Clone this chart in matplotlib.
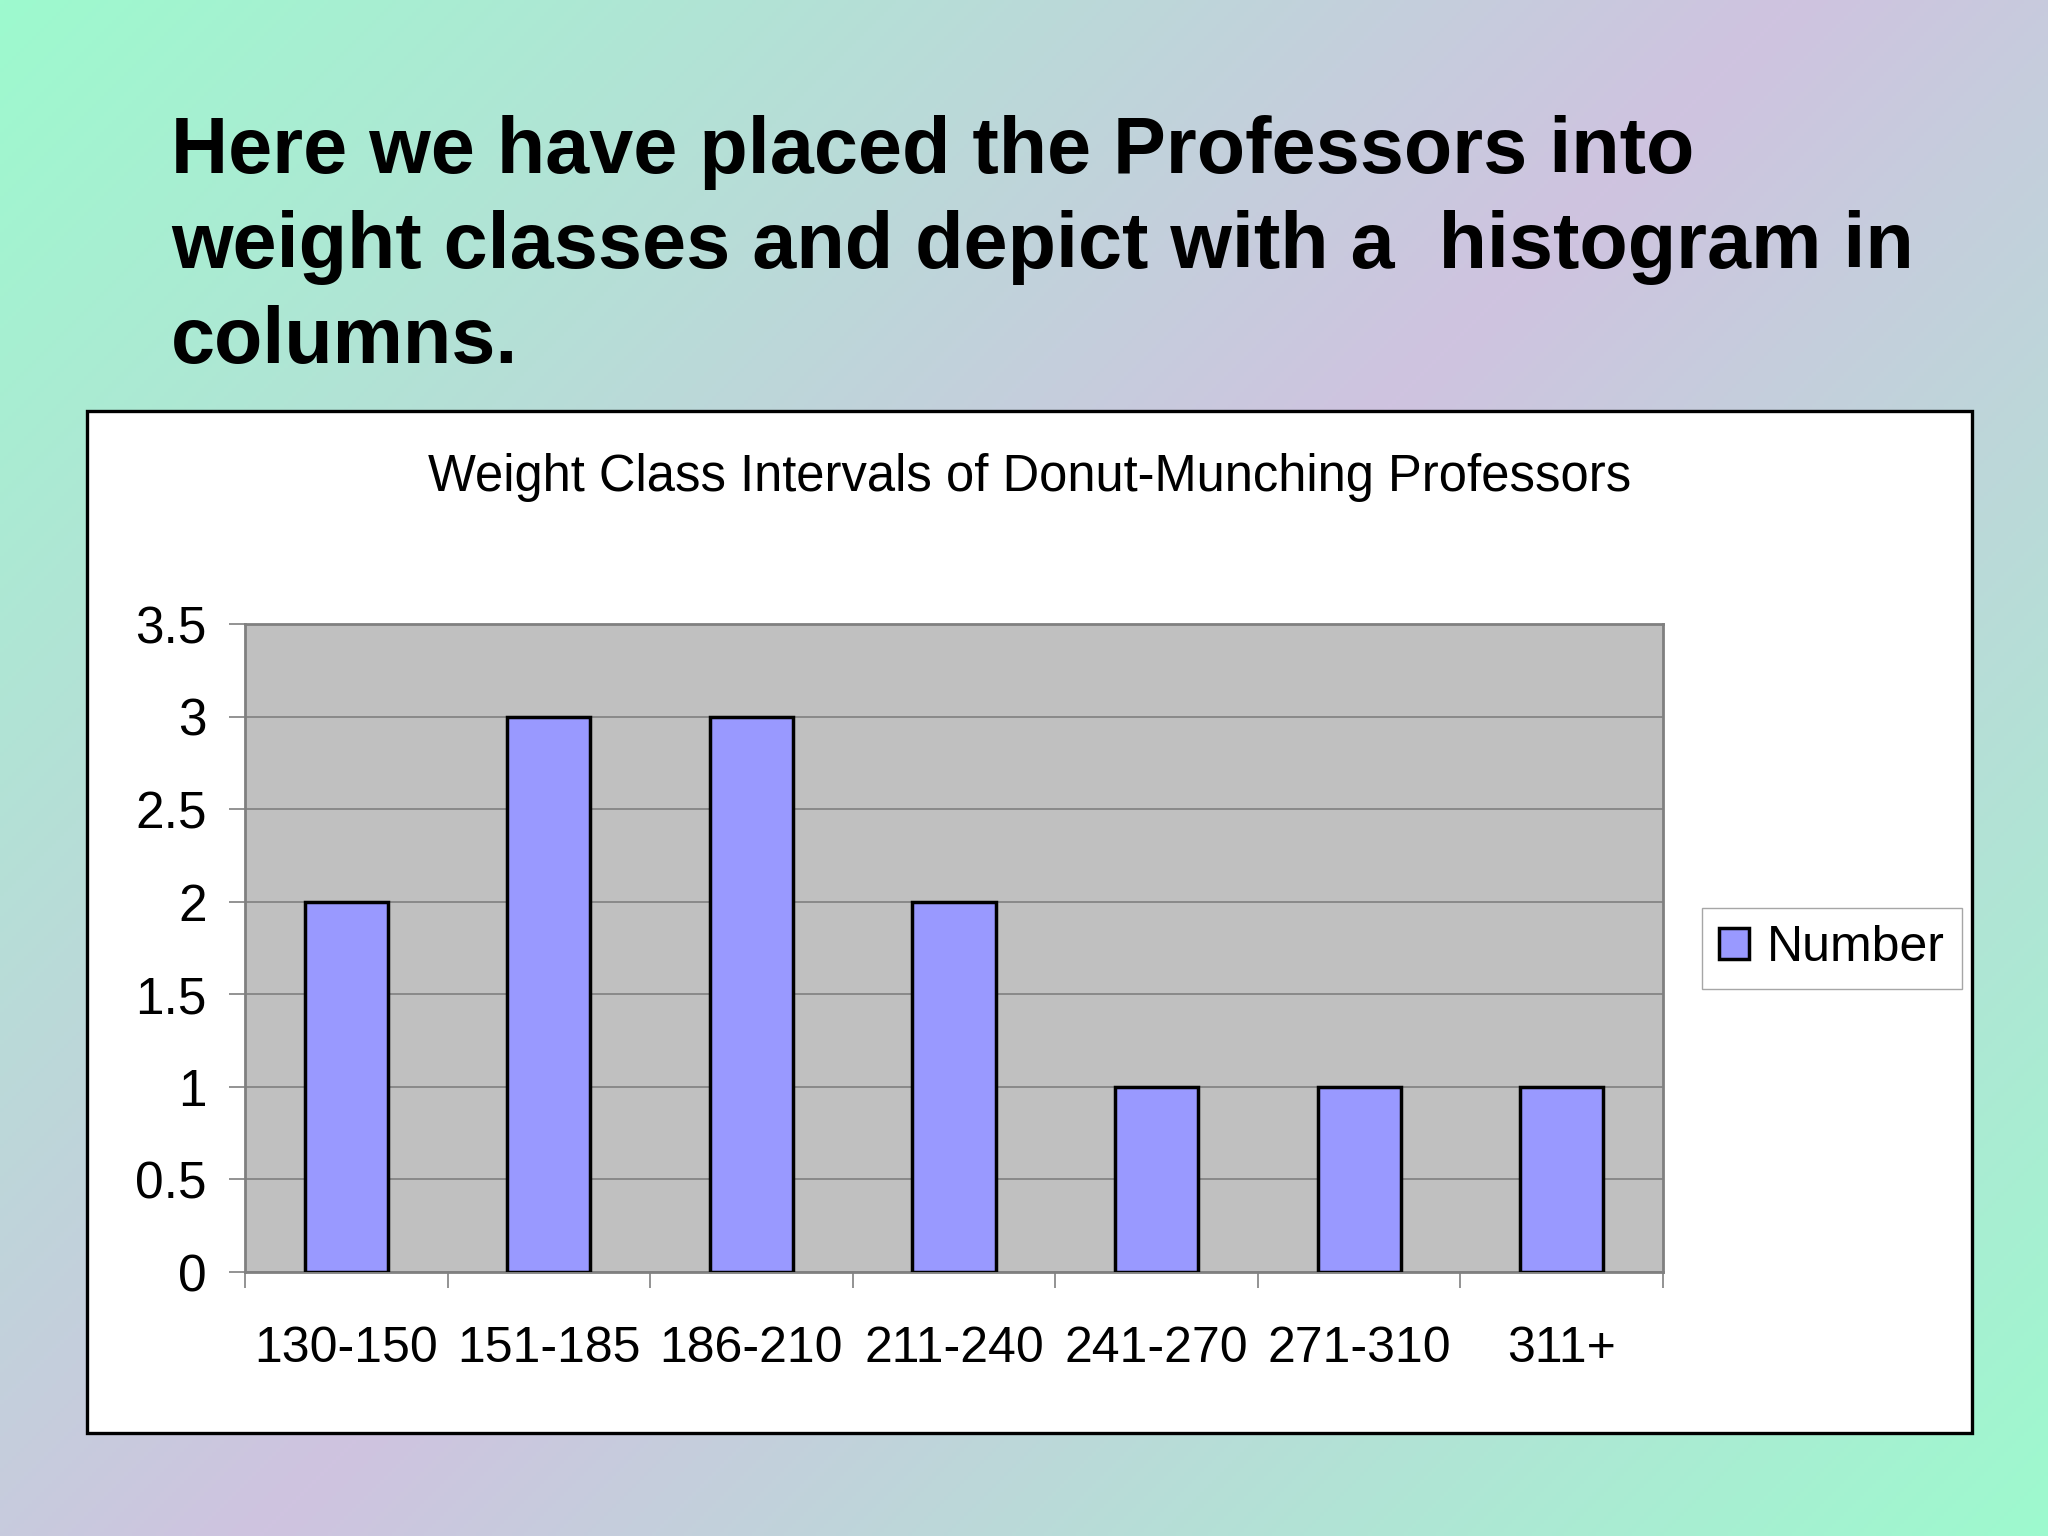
import matplotlib
matplotlib.use("Agg")
import matplotlib.pyplot as plt
import numpy as np
from matplotlib.patches import Rectangle

plt.rcParams['font.family'] = ['Liberation Sans', 'DejaVu Sans']

# данные
heading = ["Here we have placed the Professors into",
           "weight classes and depict with a  histogram in",
           "columns."]
chart_title = "Weight Class Intervals of Donut-Munching Professors"
classes = ["130-150", "151-185", "186-210", "211-240", "241-270", "271-310", "311+"]
number = [2, 3, 3, 2, 1, 1, 1]
y_ticks = [0, 0.5, 1, 1.5, 2, 2.5, 3, 3.5]
series_name = "Number"

W, H = 2048, 1536
fig = plt.figure(figsize=(W / 100, H / 100), dpi=100)

# фон: диагональный градиент зелёный -> сиреневый -> зелёный
green = np.array([157, 250, 206]) / 255
purple = np.array([207, 195, 224]) / 255
xx, yy = np.meshgrid(np.arange(0, W, 4), np.arange(0, H, 4))
t = (xx + yy) / (W + H)
k = 1 - np.abs(2 * t - 1)
grad = green[None, None, :] * (1 - k[..., None]) + purple[None, None, :] * k[..., None]
bg = fig.add_axes([0, 0, 1, 1], zorder=0)
bg.imshow(grad, aspect='auto', extent=[0, 1, 0, 1], origin='upper')
bg.set_xlim(0, 1)
bg.set_ylim(0, 1)
bg.axis('off')

# заголовок слайда
for i, line in enumerate(heading):
    fig.text(171 / W, 1 - (173 + 95 * i) / H, line, fontsize=57, fontweight='bold',
             va='baseline', ha='left', zorder=2)

# белая рамка диаграммы
fig.patches.append(Rectangle((87 / W, 1 - 1433 / H), (1972 - 87) / W, (1433 - 411) / H,
                             transform=fig.transFigure, facecolor='white',
                             edgecolor='black', lw=2.4, zorder=1))

fig.text(1030 / W, 1 - 478 / H, chart_title, fontsize=36.5, ha='center', va='center', zorder=3)

ax = fig.add_axes([245 / W, 1 - 1272 / H, (1663 - 245) / W, (1272 - 624) / H], zorder=3)
ax.set_facecolor('#C0C0C0')
x = np.arange(len(classes))
bars = ax.bar(x, number, width=0.41, color='#9999FF', edgecolor='black', lw=2.5,
              label=series_name, zorder=3)
ax.set_xlim(-0.5, len(classes) - 0.5)
ax.set_ylim(0, 3.5)
ax.set_yticks(y_ticks)
ax.set_yticklabels([f"{v:g}" for v in y_ticks])
ax.yaxis.grid(True, color='#808080', lw=1.2, zorder=1)
ax.set_axisbelow(True)

ax.set_xticks(x)
ax.set_xticklabels(classes)
ax.set_xticks(np.arange(len(classes) + 1) - 0.5, minor=True)
ax.tick_params(axis='x', which='major', length=0, pad=39, labelsize=36)
ax.tick_params(axis='x', which='minor', length=11.5, width=1.2, color='#808080')
ax.tick_params(axis='y', length=11.5, width=1.2, color='#808080', pad=16, labelsize=37)
for s in ax.spines.values():
    s.set_color('#808080')
    s.set_linewidth(2)

leg = fig.legend(handles=[bars], labels=[series_name], loc='center',
                 bbox_to_anchor=(1832 / W, 1 - 948 / H), fontsize=36,
                 fancybox=False, handlelength=0.6, handleheight=0.6,
                 handletextpad=0.35, borderpad=0.35)
leg.get_frame().set_edgecolor('#909090')
leg.get_frame().set_linewidth(1.0)
leg.set_zorder(4)

fig.savefig("out.png", dpi=100)
